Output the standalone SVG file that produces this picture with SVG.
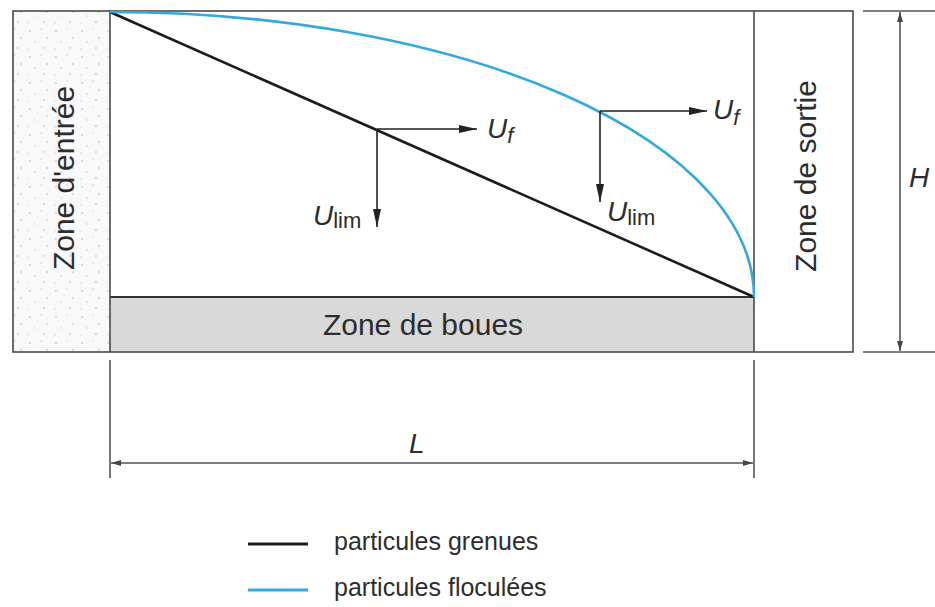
<svg xmlns="http://www.w3.org/2000/svg" width="935" height="607" viewBox="0 0 935 607">
  <style>
    .box { fill: none; stroke: #4a4a4a; stroke-width: 1.6; }
    .dim { fill: none; stroke: #555; stroke-width: 1.6; }
    .vec { fill: none; stroke: #222; stroke-width: 1.6; }
    .zone { font-family: "Liberation Sans", Arial, sans-serif; font-size: 30px; fill: #2d2d2d; }
    .sym { font-family: "Liberation Sans", Arial, sans-serif; font-size: 28px; font-style: italic; fill: #2d2d2d; }
    .sub { font-size: 22px; font-style: normal; }
    .subi { font-size: 22px; font-style: italic; }
    .leg { font-family: "Liberation Sans", Arial, sans-serif; font-size: 25px; fill: #2d2d2d; }
  </style>
  <defs>
    <pattern id="speckle" width="26" height="26" patternUnits="userSpaceOnUse">
      <rect width="26" height="26" fill="#f9f9f9"/>
      <circle cx="4" cy="5" r="0.9" fill="#cfcfcf"/>
      <circle cx="15" cy="3" r="0.8" fill="#d6d6d6"/>
      <circle cx="21" cy="12" r="0.9" fill="#cccccc"/>
      <circle cx="9" cy="16" r="0.8" fill="#d4d4d4"/>
      <circle cx="18" cy="22" r="0.9" fill="#cfcfcf"/>
      <circle cx="3" cy="23" r="0.7" fill="#d8d8d8"/>
      <circle cx="12" cy="9" r="0.6" fill="#dcdcdc"/>
    </pattern>
    <marker id="arr" viewBox="0 0 18 10" refX="18" refY="5" markerWidth="18" markerHeight="10" markerUnits="userSpaceOnUse" orient="auto">
      <path d="M0,1 L18,5 L0,9 z" fill="#222"/>
    </marker>
    <marker id="dimarr" viewBox="0 0 10 6" refX="10" refY="3" markerWidth="10" markerHeight="6" markerUnits="userSpaceOnUse" orient="auto-start-reverse">
      <path d="M0,0 L10,3 L0,6 z" fill="#444"/>
    </marker>
  </defs>

  <g id="entry-zone">
    <rect x="13" y="11" width="97" height="341" fill="url(#speckle)"/>
    <text class="zone" transform="translate(74,178) rotate(-90)" text-anchor="middle" font-size="31">Zone d'entrée</text>
  </g>

  <g id="sludge-zone">
    <rect x="110" y="297" width="644" height="55" fill="#d9d9d9"/>
    <line x1="110" y1="297" x2="754" y2="297" stroke="#333" stroke-width="1.8"/>
    <text class="zone" x="423" y="335" text-anchor="middle">Zone de boues</text>
  </g>

  <g id="exit-zone">
    <text class="zone" transform="translate(816,176) rotate(-90)" text-anchor="middle">Zone de sortie</text>
  </g>

  <g id="basin">
    <rect class="box" x="13" y="11" width="840" height="341"/>
    <line class="box" x1="110" y1="11" x2="110" y2="352"/>
    <line class="box" x1="754" y1="11" x2="754" y2="352"/>
  </g>

  <g id="trajectories">
    <line x1="110" y1="12" x2="754" y2="297" stroke="#1c1c1c" stroke-width="2.6"/>
    <path d="M110,12 A644,285 0 0 1 754,297" fill="none" stroke="#33a9dc" stroke-width="2.6"/>
  </g>

  <g id="connectors">
    <line class="vec" x1="377" y1="129" x2="477" y2="129" marker-end="url(#arr)"/>
    <line class="vec" x1="377" y1="129" x2="377" y2="227" marker-end="url(#arr)"/>
    <line class="vec" x1="600" y1="111" x2="707" y2="111" marker-end="url(#arr)"/>
    <line class="vec" x1="600" y1="111" x2="600" y2="202" marker-end="url(#arr)"/>
    <line class="dim" x1="863" y1="11" x2="935" y2="11"/>
    <line class="dim" x1="863" y1="352" x2="935" y2="352"/>
    <line class="dim" x1="900" y1="12" x2="900" y2="351" marker-start="url(#dimarr)" marker-end="url(#dimarr)"/>
    <line class="dim" x1="110" y1="360" x2="110" y2="478"/>
    <line class="dim" x1="754" y1="360" x2="754" y2="478"/>
    <line class="dim" x1="111" y1="463" x2="753" y2="463" marker-start="url(#dimarr)" marker-end="url(#dimarr)"/>
  </g>

  <g id="labels">
    <text class="sym" x="487" y="138">U<tspan class="subi" dy="5">f</tspan></text>
    <text class="sym" x="313" y="225">U<tspan class="sub" dy="3">lim</tspan></text>
    <text class="sym" x="713" y="119">U<tspan class="subi" dy="6">f</tspan></text>
    <text class="sym" x="607" y="221">U<tspan class="sub" dy="4">lim</tspan></text>
    <text class="sym" x="909" y="187">H</text>
    <text class="sym" x="409" y="453">L</text>
  </g>

  <g id="legend">
    <line x1="248" y1="544" x2="308" y2="544" stroke="#1c1c1c" stroke-width="3"/>
    <text class="leg" x="334" y="550">particules grenues</text>
    <line x1="248" y1="590" x2="308" y2="590" stroke="#33a9dc" stroke-width="3"/>
    <text class="leg" x="334" y="596">particules floculées</text>
  </g>
</svg>
